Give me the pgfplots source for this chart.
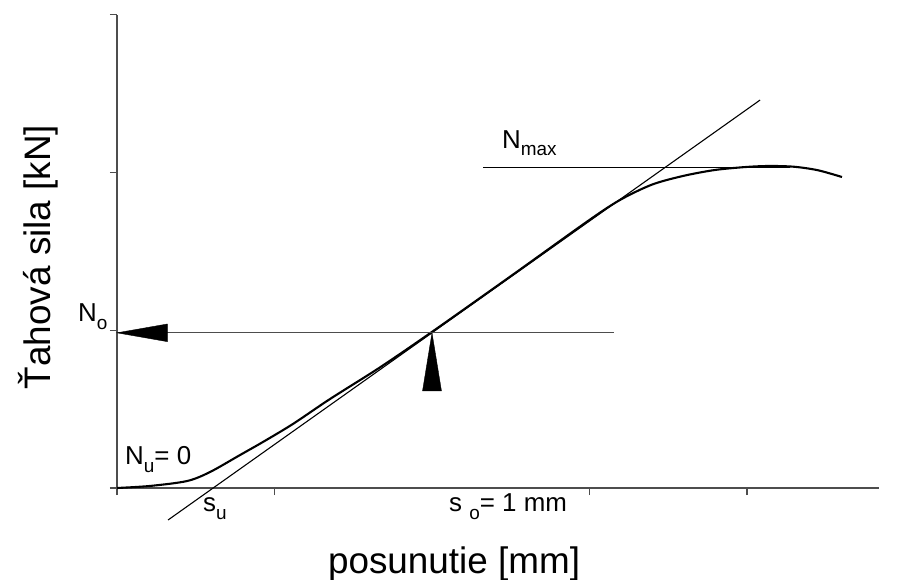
\documentclass[border=0pt]{standalone}
\usepackage{pgfplots}
\pgfplotsset{compat=1.18}
\usepackage{fontspec}
\setmainfont{Liberation Sans}
\definecolor{axgray}{HTML}{4D4D4D}
\newcommand\sub[1]{\raisebox{-0.3em}{\fontsize{19}{21}\selectfont #1}}
\tikzset{annot/.style={inner sep=0pt, anchor=base west, font=\fontsize{26}{30}\selectfont}}

\begin{document}
\begin{tikzpicture}
\useasboundingbox (-117bp,-92bp) rectangle (780bp,488bp);
\begin{axis}[
  anchor=origin, at={(0,0)},
  x=157.5bp, y=157.7bp,
  xmin=0, xmax=4.84, ymin=0, ymax=3,
  axis lines=left, axis line style={-, axgray, line width=1.4pt},
  xtick={0,1,3,4}, ytick={0,1,2,3},
  xticklabels={}, yticklabels={},
  tick align=outside, major tick length=7bp,
  tick style={axgray, line width=1.2pt},
  clip=false,
]
% measured curve
\addplot[black, line width=2.1pt, smooth, tension=0.5] coordinates {
  (0,0) (0.21,0.013) (0.444,0.044) (0.59,0.101) (0.781,0.209) (0.927,0.292)
  (1.117,0.406) (1.352,0.564) (1.67,0.765) (2.0,0.99) (2.5,1.343) (3.0,1.70)
  (3.2,1.83) (3.4,1.925) (3.6,1.98) (3.8,2.017) (4.0,2.036)
  (4.146,2.042) (4.3,2.037) (4.45,2.015) (4.603,1.972)};
% tangent
\addplot[black, line width=1.1pt] coordinates {(0.324,-0.203) (4.083,2.460)};
% N_max level
\addplot[black, line width=1.1pt] coordinates {(2.324,2.035) (4.27,2.035)};
% N_o level
\addplot[axgray, line width=1.3pt] coordinates {(0,0.984) (3.155,0.984)};
% arrow heads
\addplot[black, fill=black] coordinates {(0,0.984) (0.32,1.04) (0.32,0.928)} --cycle;
\addplot[black, fill=black] coordinates {(2.0,0.984) (1.94,0.616) (2.06,0.616)} --cycle;
% annotations
\node[annot] at (axis cs:2.444,2.155) {N\sub{max}};
\node[annot] at (axis cs:-0.248,1.053) {N\sub{o}};
\node[annot] at (axis cs:0.051,0.146) {N\sub{u}= 0};
\node[annot] at (axis cs:0.546,-0.152) {s\sub{u}};
\node[annot] at (axis cs:2.108,-0.152) {s \sub{o}= 1 mm};
% axis titles
\node[anchor=base, inner sep=0pt, font=\fontsize{37}{44}\selectfont] at (axis cs:2.14,-0.539) {posunutie [mm]};
\node[anchor=base, inner sep=0pt, rotate=90, font=\fontsize{37}{44}\selectfont] at (axis cs:-0.425,1.465) {Ťahová sila [kN]};
\end{axis}
\end{tikzpicture}
\end{document}
